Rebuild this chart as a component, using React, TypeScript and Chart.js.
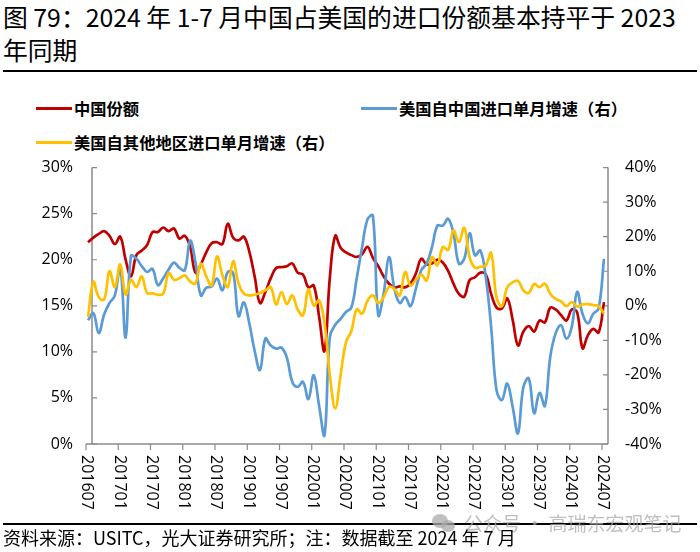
import React, { useEffect, useRef } from "react";
import { Chart, registerables } from "chart.js";

Chart.register(...registerables);

// ---------- data ----------
const categories: string[] = (() => {
  const out: string[] = [];
  for (let y = 2016; y <= 2024; y++) {
    for (let m = 1; m <= 12; m++) {
      if (y === 2016 && m < 7) continue;
      if (y === 2024 && m > 7) continue;
      out.push(`${y}${m < 10 ? "0" + m : m}`);
    }
  }
  return out;
})();

// 中国份额 (left axis, %)
const chinaShare = [
  21.9, 22.4, 22.8, 23.1, 22.6, 21.7, 22.5, 20.0, 18.2, 20.5,
  21.0, 21.6, 23.0, 23.0, 23.5, 23.1, 23.4, 22.3, 22.6, 21.4,
  18.6, 19.5, 20.8, 21.8, 21.9, 21.7, 23.9, 22.4, 22.1, 22.5,
  20.9, 18.2, 15.3, 16.5, 18.0, 19.1, 19.2, 19.3, 19.6, 18.6,
  18.4, 17.0, 17.2, 13.8, 10.1, 18.1, 22.6, 21.3, 20.8, 20.5,
  20.3, 20.6, 21.4, 20.2, 19.3, 18.2, 17.4, 17.0, 17.1, 17.0,
  17.4, 18.5, 20.1, 19.5, 19.6, 20.0, 19.7, 18.8, 17.4, 16.3,
  16.0, 17.8, 18.1, 18.6, 18.4, 16.3, 14.8, 14.7, 15.8, 13.5,
  10.7, 12.2, 12.8, 12.2, 13.4, 13.2, 14.8, 14.6, 14.0, 13.4,
  14.6, 14.3, 10.4, 11.8, 12.5, 12.1, 15.4,
];

// 美国自中国进口单月增速 (right axis, %)
const importsFromChina = [
  -4.2, -2.1, -7.9, -2.5, 0.8, 3.0, 11.2, -9.2, 14.5, 13.6,
  11.5, 9.8, 10.7, 6.0, 8.0, 10.5, 12.5, 11.0, 10.3, 18.9,
  12.5, 3.0, 5.2, 5.6, 7.9, 4.5, 9.8, 9.5, -3.0, 1.0,
  -5.0, -13.0, -18.6, -9.5, -11.5, -12.4, -12.1, -15.0, -22.0, -23.5,
  -22.0, -27.0, -20.1, -29.0, -37.4, -9.0, -5.5, -3.8, -1.8, -0.5,
  8.0, 17.0, 25.0, 26.1, -2.7, 3.5, 14.1, 5.0, 0.8, 2.5,
  -0.1, 5.0, 10.3, 12.2, 17.0, 23.2, 23.2, 25.2, 20.9, 12.2,
  13.6, 21.0, 14.6, 16.0, 8.3, -6.1, -24.4, -27.3, -22.5, -29.2,
  -36.9, -23.5, -21.0, -31.1, -25.2, -29.0, -14.8, -8.0, -5.6, -9.5,
  -6.1, 4.0, -2.3, -5.1, -2.3, -0.8, 13.6,
];

// 美国自其他地区进口单月增速 (right axis, %)
const importsFromOthers = [
  -3.2, 6.9, 2.5, 1.8, 10.0, 5.4, 12.0, 3.3, 7.5, 5.4,
  8.5, 3.7, 3.6, 3.2, 3.5, 9.5, 7.5, 8.0, 8.8, 7.0,
  6.5, 12.2, 8.5, 5.9, 14.3, 9.0, 5.4, 12.9, 6.5, 3.5,
  3.0, 3.2, 3.7, 4.5, 5.4, 0.4, 4.0, 0.5, 3.0, -1.0,
  -2.8, 4.7, 0.1, 1.6, -5.0, -20.0, -29.7, -20.0, -10.5, -7.3,
  -1.0, -2.3, 1.5, 3.0, 0.8, 2.5, 5.5, 4.8, 3.0, 9.8,
  5.9, 7.5, 9.0, 7.3, 14.1, 11.7, 17.0, 16.2, 21.8, 18.4,
  22.6, 14.0, 11.0, 11.3, 11.7, 15.3, 2.5, -0.1, 5.4, 6.8,
  7.2, 4.5, 3.7, 6.3, 5.4, 6.4, 3.5, 2.0, 1.3, -0.1,
  1.1, -0.2, 0.4, 0.5, 0.2, -0.1, -2.3,
];

const leftTicks = [0, 5, 10, 15, 20, 25, 30];
const rightTicks = [-40, -30, -20, -10, 0, 10, 20, 30, 40];
const xLabelStep = 6;

const seriesNames = ["中国份额", "美国自中国进口单月增速（右）", "美国自其他地区进口单月增速（右）"];
const titleLines = ["图 79：2024 年 1-7 月中国占美国的进口份额基本持平于 2023", "年同期"];
const sourceText = "资料来源：USITC，光大证券研究所；注：数据截至 2024 年 7 月";
const watermarkText = "公众号 · 高瑞东宏观笔记";

// ---------- styles ----------
const RED = "#C00000";
const BLUE = "#5B9BD5";
const YELLOW = "#FFC000";
const AXIS_COLOR = "#8a8a8a";
const AXIS_SHIFT = 4;
const NUM_FONT = '"Open Sans", "Liberation Sans", sans-serif';
const CJK_FONT = '"Noto Sans CJK SC", "Noto Sans", sans-serif';

const axisPlugin = {
  id: "axisPlugin",
  beforeDatasetsDraw(chart: any) {
    const { ctx, chartArea, scales } = chart;
    const xs = scales.x;
    const yl = scales.yL;
    const yr = scales.yR;
    const leftX = chartArea.left + AXIS_SHIFT;
    const rightX = chartArea.right + AXIS_SHIFT;
    ctx.save();
    ctx.strokeStyle = AXIS_COLOR;
    ctx.lineWidth = 1.5;
    ctx.beginPath();
    ctx.moveTo(leftX, chartArea.top);
    ctx.lineTo(leftX, chartArea.bottom);
    ctx.moveTo(rightX, chartArea.top);
    ctx.lineTo(rightX, chartArea.bottom);
    ctx.moveTo(chartArea.left - 2, chartArea.bottom);
    ctx.lineTo(rightX, chartArea.bottom);
    ctx.stroke();
    ctx.lineWidth = 1.2;
    ctx.beginPath();
    leftTicks.forEach((v) => {
      const y = yl.getPixelForValue(v);
      ctx.moveTo(leftX, y);
      ctx.lineTo(leftX + 5, y);
    });
    rightTicks.forEach((v) => {
      const y = yr.getPixelForValue(v);
      ctx.moveTo(rightX, y);
      ctx.lineTo(rightX - 5, y);
    });
    categories.forEach((_, i) => {
      if (i % xLabelStep !== 0) return;
      const x = xs.getPixelForValue(i) - 2;
      ctx.moveTo(x, chartArea.bottom);
      ctx.lineTo(x, chartArea.bottom + 6);
    });
    ctx.stroke();
    ctx.restore();
  },
  afterDraw(chart: any) {
    const { ctx, chartArea, scales } = chart;
    const xs = scales.x;
    ctx.save();
    ctx.fillStyle = "#000";
    ctx.font = `16px ${NUM_FONT}`;
    ctx.textAlign = "left";
    ctx.textBaseline = "middle";
    categories.forEach((lab, i) => {
      if (i % xLabelStep !== 0) return;
      const x = xs.getPixelForValue(i) - 1;
      ctx.save();
      ctx.translate(x, chartArea.bottom + 11);
      ctx.rotate(Math.PI / 2);
      ctx.fillText(lab, 0, 0);
      ctx.restore();
    });
    ctx.restore();
  },
};

function ChartCanvas() {
  const ref = useRef<HTMLCanvasElement | null>(null);
  useEffect(() => {
    if (!ref.current) return;
    const chart = new Chart(ref.current, {
      type: "line",
      data: {
        labels: categories,
        datasets: [
          {
            label: seriesNames[0],
            data: chinaShare,
            yAxisID: "yL",
            borderColor: RED,
            borderWidth: 2.7,
            pointRadius: 0,
            tension: 0.4,
            order: 2,
          },
          {
            label: seriesNames[1],
            data: importsFromChina,
            yAxisID: "yR",
            borderColor: BLUE,
            borderWidth: 2.7,
            pointRadius: 0,
            tension: 0.4,
            order: 1,
          },
          {
            label: seriesNames[2],
            data: importsFromOthers,
            yAxisID: "yR",
            borderColor: YELLOW,
            borderWidth: 2.7,
            pointRadius: 0,
            tension: 0.4,
            order: 0,
          },
        ],
      },
      options: {
        animation: false,
        responsive: false,
        devicePixelRatio: 1,
        layout: { padding: { top: 4, left: 0, right: 0, bottom: 0 } },
        plugins: { legend: { display: false }, tooltip: { enabled: false } },
        scales: {
          x: {
            type: "category",
            offset: false,
            grid: { display: false, drawTicks: false },
            border: { display: false },
            ticks: { display: false },
            afterFit: (s: any) => {
              s.height = 80;
            },
          },
          yL: {
            position: "left",
            min: 0,
            max: 30,
            grid: { display: false, drawTicks: false },
            border: { display: false },
            ticks: {
              stepSize: 5,
              padding: 15,
              color: "#000",
              font: { family: NUM_FONT, size: 16 },
              callback: (v: any) => `${v}%`,
            },
            afterFit: (s: any) => {
              s.width = 88;
            },
          },
          yR: {
            position: "right",
            min: -40,
            max: 40,
            grid: { display: false, drawTicks: false },
            border: { display: false },
            ticks: {
              stepSize: 10,
              padding: 21,
              color: "#000",
              font: { family: NUM_FONT, size: 16 },
              callback: (v: any) => `${v}%`,
            },
            afterFit: (s: any) => {
              s.width = 96;
            },
          },
        },
      },
      plugins: [axisPlugin],
    });
    return () => chart.destroy();
  }, []);
  return (
    <canvas
      ref={ref}
      width={700}
      height={387}
      style={{ position: "absolute", left: 0, top: 137, width: 700, height: 387 }}
    />
  );
}

function LegendItem({ color, text, left, top }: { color: string; text: string; left: number; top: number }) {
  return (
    <div style={{ position: "absolute", left, top: top - 12, height: 24, display: "flex", alignItems: "center" }}>
      <div style={{ width: 36, height: 3, background: color, marginRight: 2 }} />
      <span style={{ fontFamily: CJK_FONT, fontWeight: 700, fontSize: 16.3, color: "#000", whiteSpace: "nowrap" }}>{text}</span>
    </div>
  );
}

export default function App() {
  return (
    <div
      style={{
        position: "fixed",
        left: 0,
        top: 0,
        width: 700,
        height: 552,
        background: "#fff",
        overflow: "hidden",
      }}
    >
      <div
        style={{
          position: "absolute",
          left: 3,
          top: 0,
          fontFamily: CJK_FONT,
          fontSize: 24.8,
          lineHeight: "33px",
          color: "#000",
          whiteSpace: "nowrap",
        }}
      >
        {titleLines[0]}
        <br />
        {titleLines[1]}
      </div>
      <div style={{ position: "absolute", left: 3, top: 70, width: 694, height: 2, background: "#000" }} />
      <LegendItem color={RED} text={seriesNames[0]} left={36} top={108} />
      <LegendItem color={BLUE} text={seriesNames[1]} left={361} top={108} />
      <LegendItem color={YELLOW} text={seriesNames[2]} left={36} top={142} />
      <ChartCanvas />
      <div style={{ position: "absolute", left: 3, top: 523, width: 694, height: 1.5, background: "#000" }} />
      <div
        style={{
          position: "absolute",
          left: 432,
          top: 509,
          display: "flex",
          alignItems: "center",
          color: "rgba(170,170,170,0.75)",
          fontFamily: CJK_FONT,
          fontSize: 19,
          whiteSpace: "nowrap",
        }}
      >
        <div style={{ position: "relative", width: 26, height: 22, marginRight: 6 }}>
          <div style={{ position: "absolute", left: 0, top: 2, width: 16, height: 14, borderRadius: "50%", background: "rgba(170,170,170,0.75)" }} />
          <div style={{ position: "absolute", left: 9, top: 8, width: 14, height: 12, borderRadius: "50%", background: "rgba(170,170,170,0.75)" }} />
        </div>
        {watermarkText}
      </div>
      <div
        style={{
          position: "absolute",
          left: 3,
          top: 525,
          fontFamily: CJK_FONT,
          fontSize: 18,
          lineHeight: "24px",
          color: "#000",
          whiteSpace: "nowrap",
        }}
      >
        {sourceText}
      </div>
    </div>
  );
}
